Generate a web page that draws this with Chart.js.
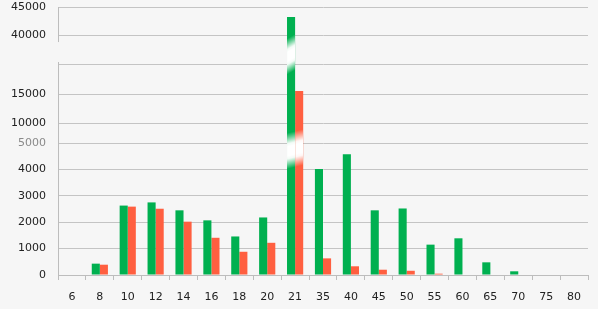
<!DOCTYPE html>
<html>
<head>
<meta charset="UTF-8" />
<title>Chart</title>
<script src="https://cdn.jsdelivr.net/npm/chart.js"></script>
<style>
  html, body { margin: 0; padding: 0; background: #f6f6f6; }
  #wrap { width: 598px; height: 309px; }
</style>
</head>
<body>
<div id="wrap"><canvas id="chart"></canvas></div>
<script>
  const categories = ['6', '8', '10', '12', '14', '16', '18', '20', '21', '35', '40', '45', '50', '55', '60', '65', '70', '75', '80'];
  const greenValues = [0, 430, 2630, 2750, 2450, 2070, 1460, 2180, 43200, 4020, 4570, 2450, 2520, 1150, 1390, 480, 140, 0, 0];
  const redValues = [0, 390, 2590, 2510, 2020, 1410, 880, 1220, 15500, 630, 330, 200, 160, 50, 0, 0, 0, 0, 0];
  const yTicks = [0, 1000, 2000, 3000, 4000, 5000, 10000, 15000, 20000, 40000, 45000];
  const hiddenLabels = [20000];

  // broken axis: value -> share of the plot height
  const axisKnots = [[0, 0], [5000, 0.4925], [10000, 0.567], [20000, 0.7836], [40000, 0.8955], [45000, 1]];
  const breakCategory = '21';
  const breaks = [
    { value: 28700, slant: 0.6, span: 36 },
    { value: 4770, slant: 0.25, span: 36 }
  ];

  function valueToFrac(v) {
    const k = axisKnots;
    if (v <= k[0][0]) return (v - k[0][0]) / (k[1][0] - k[0][0]) * (k[1][1] - k[0][1]);
    for (let i = 1; i < k.length; i++) {
      if (v <= k[i][0] || i === k.length - 1) {
        const a = k[i - 1], b = k[i];
        return a[1] + (v - a[0]) / (b[0] - a[0]) * (b[1] - a[1]);
      }
    }
  }
  function fracToValue(f) {
    const k = axisKnots;
    for (let i = 1; i < k.length; i++) {
      if (f <= k[i][1] || i === k.length - 1) {
        const a = k[i - 1], b = k[i];
        return a[0] + (f - a[1]) / (b[1] - a[1]) * (b[0] - a[0]);
      }
    }
  }

  class BrokenScale extends Chart.LinearScale {
    buildTicks() {
      return yTicks.map(v => ({ value: v }));
    }
    getPixelForValue(value) {
      return this.getPixelForDecimal(valueToFrac(value));
    }
    getValueForPixel(pixel) {
      return fracToValue(this.getDecimalForPixel(pixel));
    }
  }
  BrokenScale.id = 'broken';
  BrokenScale.defaults = Chart.LinearScale.defaults;
  Chart.register(BrokenScale);

  const breakPlugin = {
    id: 'breaks',
    beforeDraw(chart) {
      const c = chart.ctx;
      c.save();
      c.fillStyle = '#f6f6f6';
      c.fillRect(0, 0, chart.width, chart.height);
      c.restore();
    },
    afterDatasetsDraw(chart) {
      const c = chart.ctx;
      const y = chart.scales.y;
      const x = chart.scales.x;
      const idx = categories.indexOf(breakCategory);
      const cx = x.getPixelForValue(idx);
      breaks.forEach(b => {
        const yc = y.getPixelForValue(b.value);
        const gy = b.span / (1 + b.slant * b.slant) / 2;
        const gx = gy * b.slant;
        chart.data.datasets.forEach((ds, di) => {
          const bar = chart.getDatasetMeta(di).data[idx];
          if (!bar || bar.y > yc - b.span / 2) return;
          const left = bar.x - bar.width / 2;
          c.save();
          c.beginPath();
          c.rect(left, yc - b.span, bar.width, b.span * 2);
          c.clip();
          const g = c.createLinearGradient(cx - gx, yc - gy, cx + gx, yc + gy);
          g.addColorStop(0, 'rgba(255,255,255,0)');
          g.addColorStop(0.3, 'rgba(255,255,255,0.95)');
          g.addColorStop(0.38, 'rgba(255,255,255,1)');
          g.addColorStop(0.64, 'rgba(255,255,255,1)');
          g.addColorStop(0.72, 'rgba(255,255,255,0.95)');
          g.addColorStop(1, 'rgba(255,255,255,0)');
          c.fillStyle = g;
          c.fillRect(left, yc - b.span, bar.width, b.span * 2);
          c.restore();
        });
      });
    },
    afterDraw(chart) {
      // gap in the left axis line between the upper parts
      const c = chart.ctx;
      const y = chart.scales.y;
      const top = y.getPixelForValue(35300);
      const bottom = y.getPixelForValue(22000);
      c.save();
      c.fillStyle = '#f6f6f6';
      c.fillRect(chart.chartArea.left - 2, top, 4, bottom - top);
      c.restore();
    }
  };

  const ctx = document.getElementById('chart').getContext('2d');
  new Chart(ctx, {
    type: 'bar',
    data: {
      labels: categories,
      datasets: [{
        data: greenValues,
        backgroundColor: '#00b050',
        barPercentage: 1,
        categoryPercentage: 0.58
      }, {
        data: redValues,
        backgroundColor: '#ff5f40',
        barPercentage: 1,
        categoryPercentage: 0.58
      }]
    },
    options: {
      responsive: true,
      maintainAspectRatio: false,
      animation: false,
      layout: { padding: { top: 7, right: 10, left: 0, bottom: 0 } },
      plugins: {
        legend: { display: false },
        tooltip: { enabled: false }
      },
      scales: {
        x: {
          grid: {
            display: true,
            drawOnChartArea: false,
            drawTicks: true,
            tickLength: 5,
            offset: true,
            color: '#bdbdbd'
          },
          border: { color: '#bdbdbd' },
          ticks: {
            color: '#222',
            padding: 11,
            autoSkip: false,
            maxRotation: 0,
            font: { family: 'DejaVu Sans', size: 11 }
          },
          afterFit(scale) { scale.height = 34; }
        },
        y: {
          type: 'broken',
          min: 0,
          max: 45000,
          grid: { color: '#c4c4c4', drawTicks: false },
          border: { color: '#bdbdbd' },
          ticks: {
            autoSkip: false,
            padding: 12,
            font: { family: 'DejaVu Sans', size: 11 },
            color: c => c.tick && c.tick.value === 5000 ? '#8a8a8a' : '#222',
            callback: v => hiddenLabels.includes(v) ? '' : String(v)
          },
          afterFit(scale) {
            scale.width = 58;
            scale.paddingTop = 0;
            scale.paddingBottom = 0;
          }
        }
      }
    },
    plugins: [breakPlugin]
  });
</script>
</body>
</html>
